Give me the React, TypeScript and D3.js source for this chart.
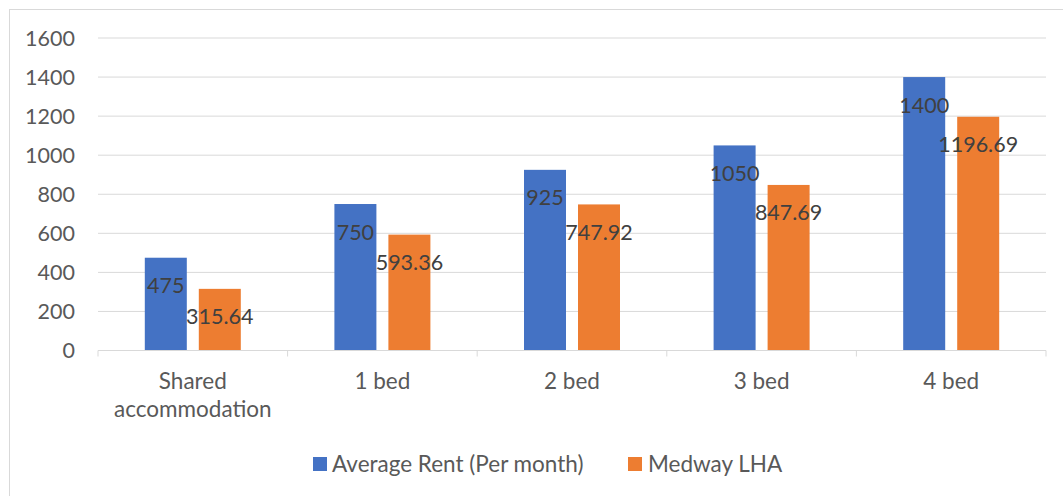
import React from "react";
import * as d3 from "d3";

const categories = ["Shared accommodation", "1 bed", "2 bed", "3 bed", "4 bed"];
const seriesNames = ["Average Rent (Per month)", "Medway LHA"];
const averageRent = [475, 750, 925, 1050, 1400];
const medwayLHA = [315.64, 593.36, 747.92, 847.69, 1196.69];
const yTicks = [0, 200, 400, 600, 800, 1000, 1200, 1400, 1600];
const colors = ["#4472C4", "#ED7D31"];

const W = 1063;
const H = 496;
const FONT = "Lato, 'Open Sans', sans-serif";

export default function App() {
  const left = 98;
  const right = 1046;
  const top = 38;
  const bottom = 350.5;

  const y = d3.scaleLinear().domain([0, 1600]).range([bottom, top]);
  const x0 = d3.scaleBand<string>().domain(categories).range([left, right]).padding(0);
  const bw = x0.bandwidth();
  const x1 = d3
    .scaleBand<string>()
    .domain(seriesNames)
    .range([bw / 2 - 48, bw / 2 + 48])
    .paddingInner(12 / 54)
    .paddingOuter(0);

  const seriesValues = [averageRent, medwayLHA];
  const fmt = (v: number) => (Number.isInteger(v) ? String(v) : v.toFixed(2));

  const wrap = (s: string) => (s.length > 12 ? s.split(" ") : [s]);

  return (
    <svg
      width={W}
      height={H}
      style={{ position: "absolute", left: 0, top: 0, background: "#fff" }}
      fontFamily={FONT}
    >
      <rect x={0} y={0} width={W} height={H} fill="#fff" />
      <rect x={9.5} y={9.5} width={W + 20} height={H + 20} fill="none" stroke="#D9D9D9" strokeWidth={1} />
      {/* gridlines */}
      {yTicks.map((t) =>
        t === 0 ? null : (
          <line key={t} x1={left} x2={right} y1={y(t)} y2={y(t)} stroke="#D9D9D9" strokeWidth={1} />
        )
      )}
      {/* y tick labels */}
      {yTicks.map((t) => (
        <text key={"yl" + t} x={75} y={y(t)} dy="0.36em" textAnchor="end" fontSize={21.5} fill="#595959">
          {t}
        </text>
      ))}
      {/* bars */}
      {categories.map((c, i) => (
        <g key={c} transform={`translate(${x0(c)},0)`}>
          {seriesNames.map((s, j) => {
            const v = seriesValues[j][i];
            return (
              <rect
                key={s}
                x={x1(s)}
                y={y(v)}
                width={x1.bandwidth()}
                height={bottom - y(v)}
                fill={colors[j]}
              />
            );
          })}
        </g>
      ))}
      {/* x axis */}
      <line x1={left} x2={right} y1={bottom} y2={bottom} stroke="#D9D9D9" strokeWidth={1} />
      {[...categories.map((c) => x0(c) as number), right].map((xx, i) => (
        <line key={"tk" + i} x1={xx} x2={xx} y1={bottom} y2={bottom + 6} stroke="#D9D9D9" strokeWidth={1} />
      ))}
      {/* category labels */}
      {categories.map((c) => (
        <text key={"cl" + c} x={(x0(c) as number) + bw / 2} y={389} textAnchor="middle" fontSize={22.5} fill="#595959">
          {wrap(c).map((line, k) => (
            <tspan key={k} x={(x0(c) as number) + bw / 2} y={389 + k * 28}>
              {line}
            </tspan>
          ))}
        </text>
      ))}
      {/* data labels */}
      {categories.map((c, i) => (
        <g key={"dl" + c} transform={`translate(${x0(c)},0)`}>
          {seriesNames.map((s, j) => {
            const v = seriesValues[j][i];
            return (
              <text
                key={s}
                x={(x1(s) as number) + x1.bandwidth() / 2}
                y={y(v) + 35.5}
                textAnchor="middle"
                fontSize={21.5}
                fill="#404040"
              >
                {fmt(v)}
              </text>
            );
          })}
        </g>
      ))}
      {/* legend */}
      <g>
        <rect x={313} y={457} width={14} height={14} fill={colors[0]} />
        <text x={332} y={472} fontSize={22.5} fill="#595959">
          {seriesNames[0]}
        </text>
        <rect x={628} y={457} width={14} height={14} fill={colors[1]} />
        <text x={648} y={472} fontSize={22.5} fill="#595959">
          {seriesNames[1]}
        </text>
      </g>
    </svg>
  );
}
